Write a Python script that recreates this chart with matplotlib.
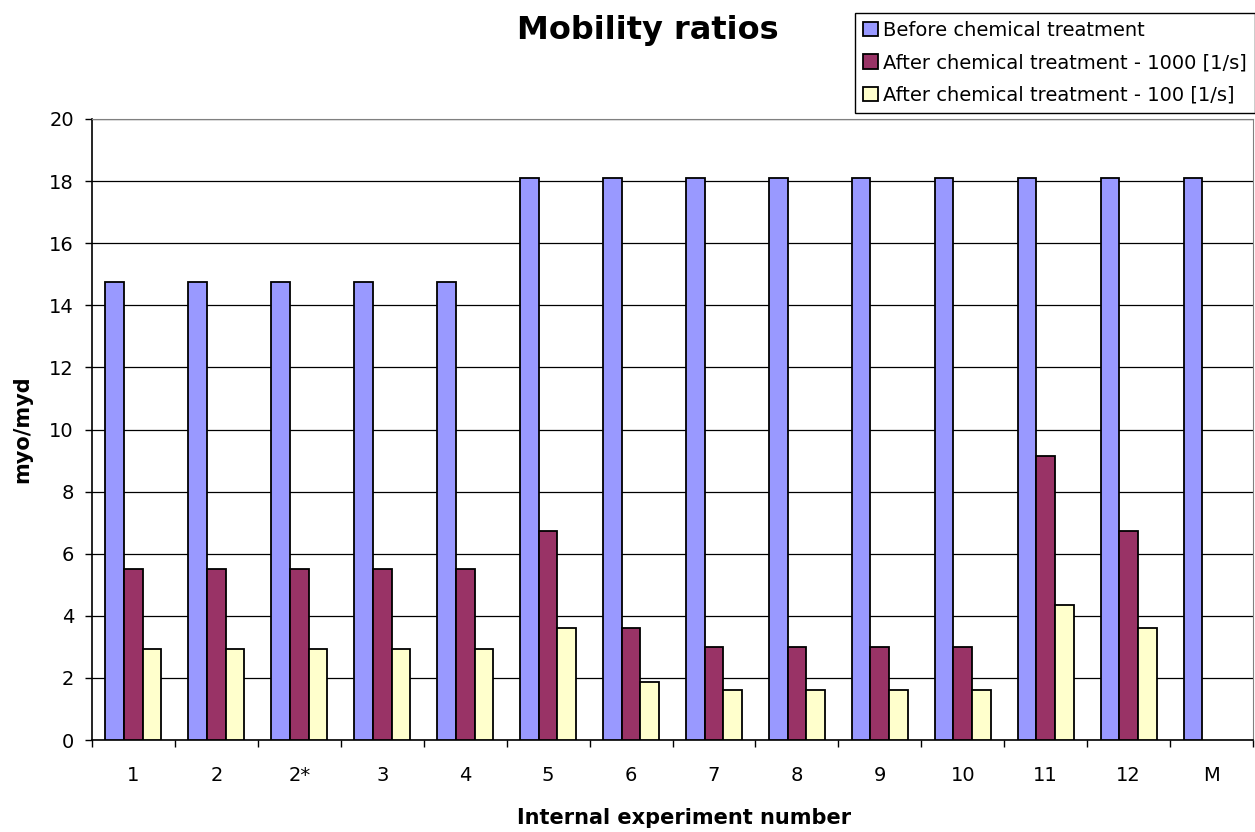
import numpy as np
import matplotlib
matplotlib.use("Agg")
import matplotlib.pyplot as plt

plt.rcParams['font.family'] = ['DejaVu Sans']

# data
categories = ['1', '2', '2*', '3', '4', '5', '6', '7', '8', '9', '10', '11', '12', 'M']
before = [14.75, 14.75, 14.75, 14.75, 14.75, 18.1, 18.1, 18.1, 18.1, 18.1, 18.1, 18.1, 18.1, 18.1]
after_1000 = [5.5, 5.5, 5.5, 5.5, 5.5, 6.73, 3.6, 3.0, 3.0, 3.0, 3.0, 9.15, 6.73, np.nan]
after_100 = [2.92, 2.92, 2.92, 2.92, 2.92, 3.6, 1.87, 1.61, 1.61, 1.61, 1.61, 4.35, 3.6, np.nan]
series_labels = ['Before chemical treatment',
                 'After chemical treatment - 1000 [1/s]',
                 'After chemical treatment - 100 [1/s]']
colors = ['#9999FF', '#993366', '#FFFFCC']

fig = plt.figure(figsize=(12.55, 8.32), dpi=100)
ax = fig.add_axes([92/1255, 1 - 740/832, (1253 - 92)/1255, (740 - 119)/832])

x = np.arange(len(categories))
w = 0.225
for i, (vals, lab, col) in enumerate(zip([before, after_1000, after_100], series_labels, colors)):
    ax.bar(x + (i - 1) * w, vals, w, color=col, edgecolor='black', linewidth=1.3,
           label=lab, zorder=3)

ax.set_xlim(-0.5, len(categories) - 0.5)
ax.set_ylim(0, 20)
ax.set_yticks(np.arange(0, 21, 2))
ax.yaxis.grid(True, color='black', linewidth=0.9, zorder=0)
ax.set_axisbelow(True)

# ticks between categories, labels centred under groups
ax.set_xticks(np.arange(-0.5, len(categories), 1.0))
ax.set_xticklabels([])
ax.set_xticks(x, minor=True)
ax.set_xticklabels(categories, minor=True)
ax.tick_params(axis='x', which='major', direction='out', length=5, width=1, color='black')
ax.tick_params(axis='x', which='minor', length=0, pad=19, labelsize=14)
ax.tick_params(axis='y', direction='out', length=5, width=1, labelsize=14, pad=8)

for s in ['top', 'right']:
    ax.spines[s].set_color('#808080')
for s in ['left', 'bottom']:
    ax.spines[s].set_color('black')
    ax.spines[s].set_linewidth(1.2)

ax.set_xlabel('Internal experiment number', fontsize=15, fontweight='bold', va='center')
ax.xaxis.set_label_coords(0.51, -(818 - 740) / 621)
ax.set_ylabel('myo/myd', fontsize=15, fontweight='bold', va='center')
ax.yaxis.set_label_coords(-(92 - 22) / 1161, 0.5)

fig.text(648/1255, 1 - 30/832, 'Mobility ratios', ha='center', va='center',
         fontsize=23, fontweight='bold')

leg = fig.legend(loc='upper right', bbox_to_anchor=(1.0, 1 - 13/832), fontsize=14,
                 frameon=True, fancybox=False, edgecolor='black', framealpha=1,
                 handlelength=0.75, handleheight=0.75, handletextpad=0.3,
                 labelspacing=0.7, borderpad=0.4, borderaxespad=0)
leg.get_frame().set_linewidth(1.0)

fig.savefig('out.png', dpi=100)
